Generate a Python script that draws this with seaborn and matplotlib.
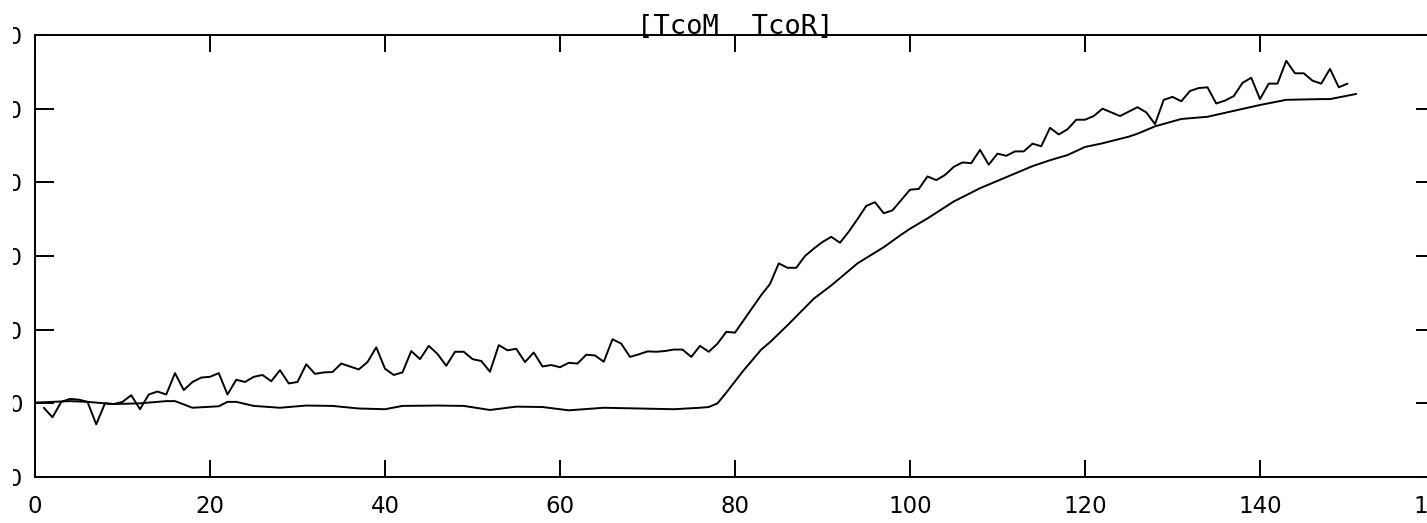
#!/usr/bin/env python3
"""Redraw of the scanned [TcoM, TcoR] trace plot."""

import matplotlib

matplotlib.use("Agg")
import matplotlib.pyplot as plt
import pandas as pd
import seaborn as sns
from matplotlib.transforms import Bbox, TransformedBbox

TITLE = "[TcoM  TcoR]"

# noisy trace, one sample per step
TCOM_STEPS = list(range(1, 151))
TCOM = [
    -0.6, -1.9, 0.2, 0.6, 0.5, 0.2, -2.85, 0.0, -0.1, 0.2,
    1.1, -0.8, 1.2, 1.6, 1.2, 4.1, 1.8, 2.9, 3.5, 3.6,
    4.1, 1.2, 3.2, 2.9, 3.6, 3.85, 3.0, 4.5, 2.7, 2.9,
    5.3, 4.0, 4.2, 4.25, 5.4, 5.0, 4.6, 5.6, 7.6, 4.7,
    3.85, 4.2, 7.1, 6.0, 7.8, 6.7, 5.1, 7.0, 7.0, 6.0,
    5.75, 4.3, 7.9, 7.2, 7.4, 5.6, 6.9, 5.0, 5.2, 4.9,
    5.5, 5.4, 6.6, 6.5, 5.65, 8.7, 8.1, 6.3, 6.65, 7.05,
    7.0, 7.1, 7.3, 7.3, 6.3, 7.8, 7.0, 8.1, 9.7, 9.6,
    11.3, 13.0, 14.7, 16.2, 19.0, 18.4, 18.4, 20.0, 21.0, 21.9,
    22.6, 21.8, 23.3, 25.0, 26.8, 27.3, 25.8, 26.2, 27.6, 29.0,
    29.1, 30.8, 30.3, 31.0, 32.1, 32.7, 32.6, 34.4, 32.4, 33.9,
    33.6, 34.2, 34.2, 35.25, 34.9, 37.4, 36.5, 37.2, 38.5, 38.5,
    39.0, 40.0, 39.5, 39.0, 39.6, 40.2, 39.5, 37.9, 41.2, 41.6,
    41.0, 42.4, 42.8, 42.9, 40.7, 41.1, 41.7, 43.5, 44.2, 41.3,
    43.4, 43.4, 46.5, 44.8, 44.8, 43.8, 43.4, 45.4, 42.9, 43.4,
]

# smooth trace, read at the points where its shape changes
TCOR_STEPS = [
    0, 4, 6, 9, 12, 15, 16, 18, 21, 22, 23, 25, 28, 31, 34, 37, 40, 42,
    46, 49, 52, 55, 58, 61, 65, 69, 73, 76, 77, 78, 79, 81, 82, 83, 84,
    86, 88, 89, 91, 94, 97, 99, 100, 102, 105, 108, 111, 114, 116, 118,
    120, 122, 125, 126, 128, 131, 134, 137, 140, 143, 147, 148, 151,
]
TCOR = [
    0.1, 0.3, 0.2, -0.1, 0.0, 0.3, 0.3, -0.6, -0.4, 0.2, 0.2, -0.35, -0.6,
    -0.3, -0.35, -0.7, -0.8, -0.35, -0.3, -0.35, -0.9, -0.45, -0.5, -0.95,
    -0.6, -0.7, -0.8, -0.6, -0.5, 0.0, 1.45, 4.5, 5.9, 7.3, 8.3,
    10.6, 13.0, 14.2, 16.0, 19.0, 21.2, 22.9, 23.7, 25.1, 27.4, 29.2, 30.7,
    32.2, 33.0, 33.7, 34.8, 35.3, 36.2, 36.6, 37.6, 38.6, 38.9, 39.7, 40.5,
    41.2, 41.3, 41.3, 42.0,
]

X_TICKS = [0, 20, 40, 60, 80, 100, 120, 140, 160]
Y_TICKS = [-10, 0, 10, 20, 30, 40, 50]

W, H = 1427, 523

sns.set_style("white")
plt.rcParams["font.family"] = ["DejaVu Sans"]
plt.rcParams["text.color"] = "black"

df = pd.concat(
    [
        pd.DataFrame({"step": TCOM_STEPS, "value": TCOM, "series": "TcoM"}),
        pd.DataFrame({"step": TCOR_STEPS, "value": TCOR, "series": "TcoR"}),
    ],
    ignore_index=True,
)

fig = plt.figure(figsize=(W / 100, H / 100), dpi=100)
# the scan is cropped: right edge of the frame sits past the image border
ax = fig.add_axes([35 / W, 46 / H, 1400 / W, 442 / H])

sns.lineplot(
    data=df, x="step", y="value", hue="series",
    palette={"TcoM": "black", "TcoR": "black"},
    estimator=None, legend=False, linewidth=1.4, ax=ax,
)

ax.set_xlim(0, 160)
ax.set_ylim(-10, 50)
ax.set_xticks(X_TICKS)
ax.set_yticks(Y_TICKS)
ax.set_xlabel("")
ax.set_ylabel("")

for s in ax.spines.values():
    s.set_visible(True)
    s.set_color("black")
    s.set_linewidth(1.4)

ax.tick_params(axis="x", direction="in", length=12, width=1.4,
               top=True, bottom=True, labelsize=16.5, pad=13, colors="black")
ax.tick_params(axis="y", direction="in", length=14, width=1.4,
               left=True, right=True, labelsize=16.5, pad=9, colors="black")

# left tick labels are cut by the scan border, only the last digit's right half shows
clip = TransformedBbox(Bbox.from_extents(13 / W, 0, 1, 1), fig.transFigure)
for t in ax.yaxis.get_major_ticks():
    t.label1.set_clip_box(clip)
    t.label1.set_clip_on(True)

ax.set_title(TITLE, fontsize=19.5, family=["DejaVu Sans Mono"], pad=0.5,
             color="black")

fig.savefig("out.png", dpi=100)
